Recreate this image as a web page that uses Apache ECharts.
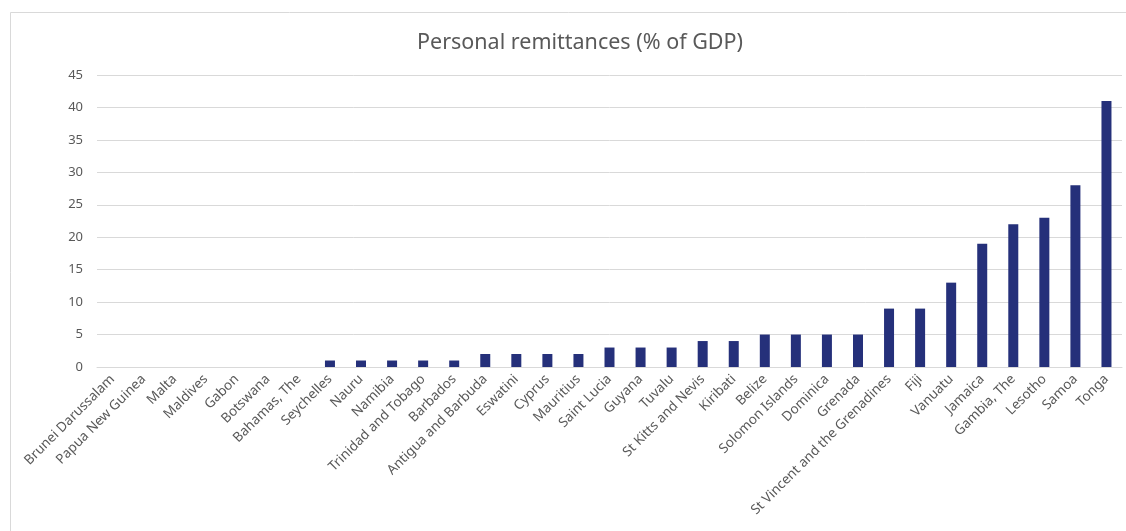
<!DOCTYPE html>
<html lang="en">
<head>
    <meta charset="UTF-8">
    <title>Personal remittances</title>
    <script src="https://cdn.jsdelivr.net/npm/echarts@6/dist/echarts.min.js"></script>
    <style>
        html, body { margin: 0; padding: 0; background: #fff; }
    </style>
</head>
<body>
<div id="main" style="width: 1126px;height:531px;"></div>
<script type="text/javascript">
    // countries, lowest to highest
    var countries = ['Brunei Darussalam', 'Papua New Guinea', 'Malta', 'Maldives', 'Gabon', 'Botswana',
        'Bahamas, The', 'Seychelles', 'Nauru', 'Namibia', 'Trinidad and Tobago', 'Barbados',
        'Antigua and Barbuda', 'Eswatini', 'Cyprus', 'Mauritius', 'Saint Lucia', 'Guyana', 'Tuvalu',
        'St Kitts and Nevis', 'Kiribati', 'Belize', 'Solomon Islands', 'Dominica', 'Grenada',
        'St Vincent and the Grenadines', 'Fiji', 'Vanuatu', 'Jamaica', 'Gambia, The', 'Lesotho',
        'Samoa', 'Tonga'];
    // remittances as % of GDP
    var remittances = [0, 0, 0, 0, 0, 0, 0, 1, 1, 1, 1, 1, 2, 2, 2, 2, 3, 3, 3, 4, 4, 5, 5, 5, 5,
        9, 9, 13, 19, 22, 23, 28, 41];
    var yTicks = [0, 5, 10, 15, 20, 25, 30, 35, 40, 45];

    var myChart = echarts.init(document.getElementById('main'));

    var option = {
        backgroundColor: '#fff',
        title: {
            text: 'Personal remittances (% of GDP)',
            left: 412,
            top: 27,
            textStyle: {
                fontFamily: 'Noto Sans',
                fontWeight: 'normal',
                fontSize: 21.5,
                color: '#595959'
            }
        },
        graphic: [{
            type: 'rect',
            shape: { x: 10.5, y: 12.5, width: 1130, height: 540 },
            style: { fill: 'none', stroke: '#d9d9d9', lineWidth: 1 },
            silent: true
        }],
        grid: {
            left: 97,
            right: 4,
            top: 75,
            bottom: 164
        },
        xAxis: {
            type: 'category',
            data: countries,
            axisLine: { lineStyle: { color: '#d9d9d9' } },
            axisTick: { show: false },
            axisLabel: {
                interval: 0,
                rotate: 45,
                margin: 10,
                color: '#595959',
                fontFamily: 'Noto Sans',
                fontSize: 13.5
            }
        },
        yAxis: {
            type: 'value',
            min: yTicks[0],
            max: yTicks[yTicks.length - 1],
            interval: 5,
            axisLine: { show: false },
            axisTick: { show: false },
            splitLine: { lineStyle: { color: '#d9d9d9' } },
            axisLabel: {
                margin: 14,
                color: '#595959',
                fontFamily: 'Noto Sans',
                fontSize: 13
            }
        },
        series: [{
            type: 'bar',
            name: 'Personal remittances',
            data: remittances,
            barWidth: 10,
            itemStyle: {
                color: '#25307a'
            }
        }]
    };

    myChart.setOption(option);
</script>
</body>
</html>
